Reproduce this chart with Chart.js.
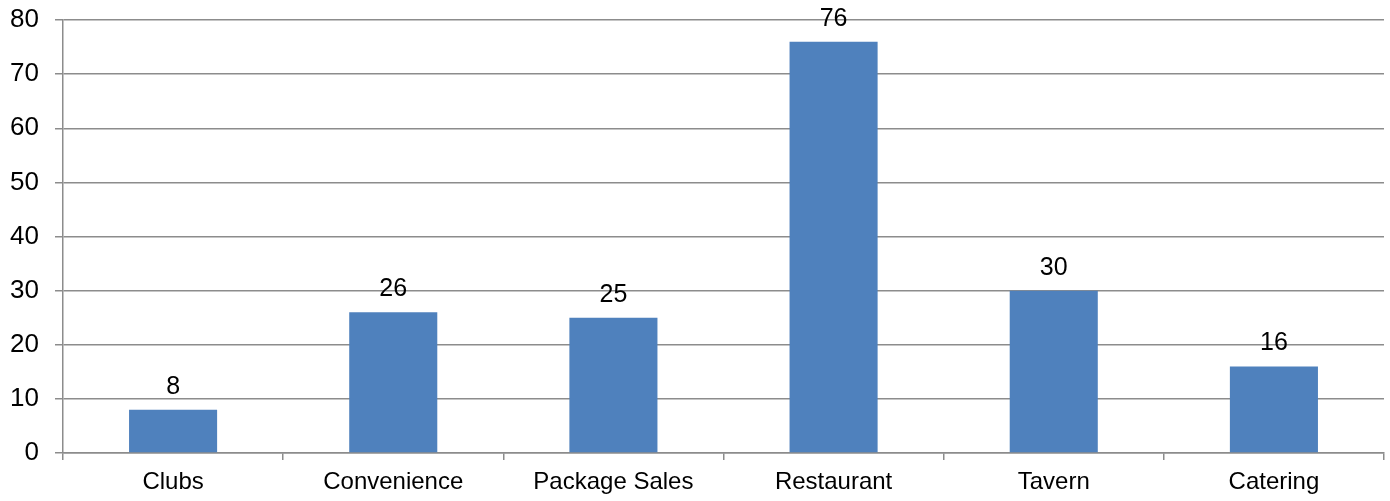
<!DOCTYPE html>
<html>
<head>
<meta charset="utf-8">
<script src="https://cdn.jsdelivr.net/npm/chart.js@4/dist/chart.umd.min.js"></script>
<style>
  html, body { margin: 0; padding: 0; background: #fff; }
  #wrap { width: 1390px; height: 501px; }
</style>
</head>
<body>
<div id="wrap"><canvas id="Chart" width="1390" height="501"></canvas></div>
<script>
const categories = ["Clubs", "Convenience", "Package Sales", "Restaurant", "Tavern", "Catering"];
const counts = [8, 26, 25, 76, 30, 16];
const yTicks = [0, 10, 20, 30, 40, 50, 60, 70, 80];

const ctx = document.querySelector("#Chart").getContext("2d");
const FONT = "'Liberation Sans', Arial, sans-serif";
const GRID = "#8c8c8c";

// value labels sitting above each bar
const barLabels = {
  id: "barLabels",
  afterDatasetsDraw(chart) {
    const c = chart.ctx;
    const meta = chart.getDatasetMeta(0);
    c.save();
    c.font = "25px " + FONT;
    c.fillStyle = "#000";
    c.textAlign = "center";
    c.textBaseline = "alphabetic";
    meta.data.forEach((bar, i) => {
      c.fillText(String(counts[i]), bar.x, bar.y - 16);
    });
    c.restore();
  }
};

const chart = new Chart(ctx, {
  type: "bar",
  data: {
    labels: categories,
    datasets: [
      {
        data: counts,
        backgroundColor: "#4F81BD",
        borderWidth: 0,
        categoryPercentage: 1,
        barPercentage: 0.4
      }
    ]
  },
  options: {
    responsive: false,
    animation: false,
    layout: { padding: { top: 20, right: 6, left: 0, bottom: 0 } },
    plugins: { legend: { display: false }, tooltip: { enabled: false } },
    scales: {
      x: {
        grid: {
          offset: true,
          drawOnChartArea: false,
          tickLength: 7,
          color: GRID,
          lineWidth: 1.5
        },
        border: { color: GRID, width: 1.5 },
        ticks: {
          color: "#000",
          font: { family: FONT, size: 24 },
          padding: 8,
          maxRotation: 0
        },
        afterFit(scale) { scale.height = 48; }
      },
      y: {
        min: 0,
        max: 80,
        afterBuildTicks(scale) {
          scale.ticks = yTicks.map(v => ({ value: v }));
        },
        afterFit(scale) {
          scale.width = 63;
          scale.paddingTop = 0;
          scale.paddingBottom = 0;
        },
        grid: { tickLength: 8, color: GRID, lineWidth: 1.5 },
        border: { color: GRID, width: 1.5 },
        ticks: {
          color: "#000",
          font: { family: FONT, size: 26, lineHeight: 1 },
          padding: 16
        }
      }
    }
  },
  plugins: [barLabels]
});
</script>
</body>
</html>
